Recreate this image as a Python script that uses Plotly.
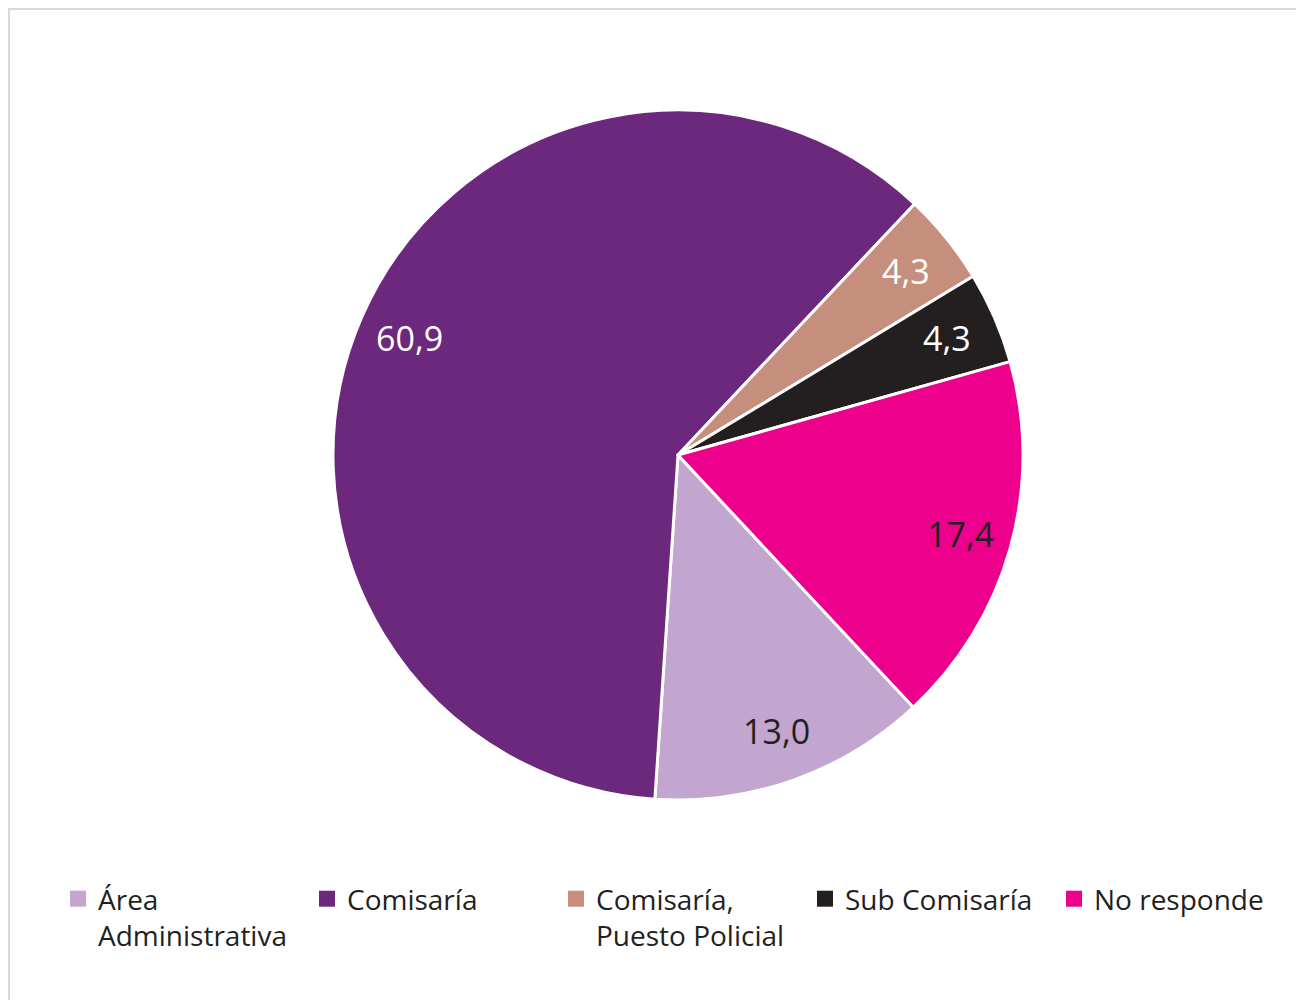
import math
import plotly.graph_objects as go

# datos
categorias = ["Área<br>Administrativa", "Comisaría", "Comisaría,<br>Puesto Policial",
              "Sub Comisaría", "No responde"]
valores = [13.0, 60.9, 4.3, 4.3, 17.4]
etiquetas = ["13,0", "60,9", "4,3", "4,3", "17,4"]

colores = ["#C3A6CF", "#6B287C", "#C68F7D", "#231F20", "#EC008C"]
color_texto = ["#231F20", "#FFFFFF", "#FFFFFF", "#FFFFFF", "#231F20"]

W, H = 1304, 1000
FONT = "Open Sans"
ROTACION = 137

# geometria del pie en pixeles de la figura (la pagina agrega 8px de margen)
cx_px, cy_px, r_px = 670, 447, 345
dom_x = [(cx_px - r_px) / W, (cx_px + r_px) / W]
dom_y = [1 - (cy_px + r_px) / H, 1 - (cy_px - r_px) / H]

fig = go.Figure()
fig.add_trace(go.Pie(
    labels=categorias,
    values=valores,
    sort=False,
    direction="clockwise",
    rotation=ROTACION,
    marker=dict(colors=colores, line=dict(color="#FFFFFF", width=3)),
    textinfo="none",
    hoverinfo="label+value",
    showlegend=False,
    domain=dict(x=dom_x, y=dom_y),
))

# leyenda con cuadrados mas grandes
for nombre, col in zip(categorias, colores):
    fig.add_trace(go.Scatter(
        x=[None], y=[None], mode="markers", name=nombre,
        marker=dict(symbol="square", size=16, color=col),
        hoverinfo="skip",
    ))

# etiquetas de datos cerca del borde exterior de cada porcion
total = sum(valores)
acum = 0
anots = []
for v, txt, col in zip(valores, etiquetas, color_texto):
    medio = math.radians(ROTACION + (acum + v / 2) / total * 360)
    acum += v
    f = 0.85
    x = (cx_px + f * r_px * math.sin(medio)) / W
    y = 1 - (cy_px - f * r_px * math.cos(medio)) / H
    anots.append(dict(x=x, y=y, xref="paper", yref="paper", text=txt,
                      xanchor="center", yanchor="middle", showarrow=False,
                      font=dict(family=FONT, size=34, color=col)))

fig.update_layout(
    width=W,
    height=H,
    margin=dict(l=0, r=0, t=0, b=0),
    paper_bgcolor="white",
    plot_bgcolor="white",
    font=dict(family=FONT, color="#231F20"),
    annotations=anots,
    xaxis=dict(visible=False),
    yaxis=dict(visible=False),
    showlegend=True,
    legend=dict(
        orientation="h",
        x=50 / W,
        y=1 - 866 / H,
        xanchor="left",
        yanchor="top",
        valign="top",
        entrywidth=204,
        font=dict(family=FONT, size=28, color="#231F20"),
    ),
    shapes=[dict(type="rect", xref="paper", yref="paper",
                 x0=1 / W, x1=1294 / W, y0=-0.02, y1=1 - 1 / H,
                 line=dict(color="#D9D9D9", width=2))],
)

fig.write_html("out.html")
